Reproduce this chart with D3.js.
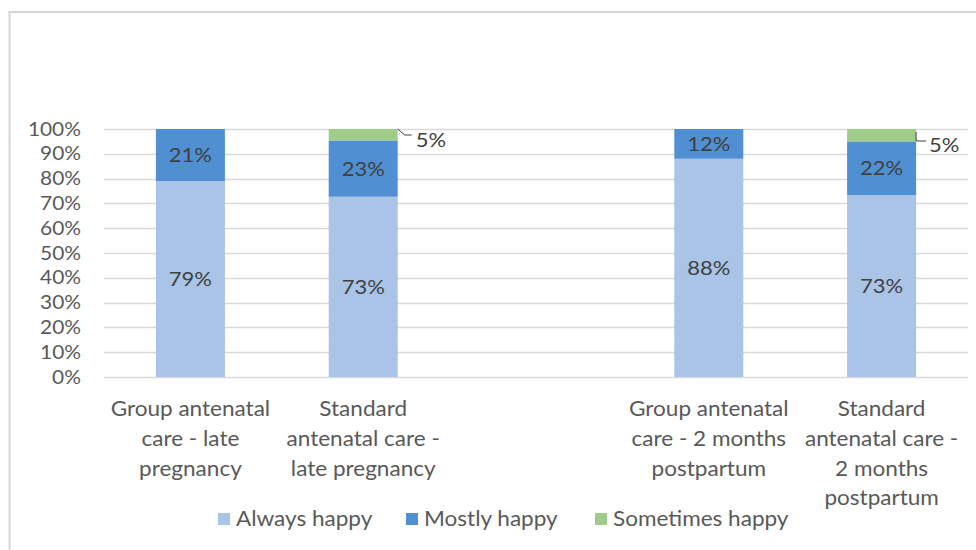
<!DOCTYPE html>
<html>
<head>
<meta charset="utf-8">
<script src="https://cdn.jsdelivr.net/npm/d3@7"></script>
<style>
body { margin: 0; background: #fff; }
svg { display: block; font-family: Lato, "Open Sans", sans-serif; }
</style>
</head>
<body>
<script>
// categories (empty slot in the middle separates the two time points)
const categories = ["c1", "c2", "gap", "c3", "c4"];
const categoryLines = {
  c1: ["Group antenatal", "care - late", "pregnancy"],
  c2: ["Standard", "antenatal care -", "late pregnancy"],
  gap: [],
  c3: ["Group antenatal", "care - 2 months", "postpartum"],
  c4: ["Standard", "antenatal care -", "2 months", "postpartum"]
};
const seriesNames = ["Always happy", "Mostly happy", "Sometimes happy"];
const always = {c1: 79.0, c2: 72.7, c3: 88.0, c4: 73.3};
const mostly = {c1: 21.0, c2: 22.7, c3: 12.0, c4: 21.7};
const sometimes = {c1: 0, c2: 4.6, c3: 0, c4: 5.0};
const yTicks = [0, 10, 20, 30, 40, 50, 60, 70, 80, 90, 100];
const colors = ["#a9c4e6", "#4f8fd2", "#9fcc88"];

const W = 976, H = 550;
const SX = 1.1; // the source text is slightly wider than Lato
const svg = d3.select(document.body).append("svg")
  .attr("width", W).attr("height", H);

const place = (px, py) => `translate(${px},${py}) scale(${SX},1)`;

// chart area frame
svg.append("rect")
  .attr("x", 9.5).attr("y", 12)
  .attr("width", W + 20).attr("height", H + 20)
  .attr("fill", "none").attr("stroke", "#d6d6d6").attr("stroke-width", 2);

const x = d3.scaleBand().domain(categories).range([104, 968]).paddingInner(0.6).paddingOuter(0.3);
const y = d3.scaleLinear().domain([0, 100]).range([377, 129]);

// gridlines
svg.append("g").selectAll("line").data(yTicks).join("line")
  .attr("x1", 104).attr("x2", 968)
  .attr("y1", d => Math.round(y(d)) + 0.5).attr("y2", d => Math.round(y(d)) + 0.5)
  .attr("stroke", "#d9d9d9").attr("stroke-width", 1.5);

// y axis labels
svg.append("g").selectAll("text").data(yTicks).join("text")
  .attr("transform", d => place(81, y(d)))
  .attr("dy", "0.35em")
  .attr("text-anchor", "end")
  .attr("fill", "#595959").attr("font-size", 19)
  .text(d => d + "%");

const data = categories.filter(c => c !== "gap").map(c => ({
  cat: c, always: always[c], mostly: mostly[c], sometimes: sometimes[c]
}));
const stack = d3.stack().keys(["always", "mostly", "sometimes"])(data);

const bw = 69;
const bx = c => x(c) + x.bandwidth() / 2 - bw / 2;

const layers = svg.append("g").selectAll("g").data(stack).join("g")
  .attr("fill", (d, i) => colors[i]);
layers.selectAll("rect").data(d => d.filter(s => s[1] > s[0])).join("rect")
  .attr("x", d => bx(d.data.cat))
  .attr("width", bw)
  .attr("y", d => y(d[1]))
  .attr("height", d => y(d[0]) - y(d[1]));

// inside labels for the two larger segments
stack.slice(0, 2).forEach(layer => {
  svg.append("g").selectAll("text").data(layer).join("text")
    .attr("transform", d => place(bx(d.data.cat) + bw / 2, (y(d[0]) + y(d[1])) / 2))
    .attr("dy", "0.35em")
    .attr("text-anchor", "middle")
    .attr("fill", "#404040").attr("font-size", 20)
    .text(d => Math.round(d[1] - d[0]) + "%");
});

// outside labels with leader lines for the small segments
const small = stack[2].filter(d => d[1] > d[0]);
const offsets = {c2: {dx: 18, dy: 11}, c4: {dx: 13, dy: 16}};
const lead = svg.append("g");
small.forEach(d => {
  const x0 = bx(d.data.cat) + bw, y0 = y(d[1]);
  const o = offsets[d.data.cat];
  lead.append("path")
    .attr("d", d.data.cat === "c2"
      ? `M${x0},${y0} L${x0 + 7},${y0 + 6} L${x0 + o.dx - 4},${y0 + 6}`
      : `M${x0},${y0 + 3} L${x0},${y0 + 12} L${x0 + o.dx - 3},${y0 + 12}`)
    .attr("fill", "none").attr("stroke", "#404040").attr("stroke-width", 1);
  lead.append("text")
    .attr("transform", place(x0 + o.dx, y0 + o.dy))
    .attr("dy", "0.35em")
    .attr("fill", "#404040").attr("font-size", 20)
    .text(Math.round(d[1] - d[0]) + "%");
});

// category labels
const cat = svg.append("g").selectAll("text").data(categories).join("text")
  .attr("transform", d => place(x(d) + x.bandwidth() / 2, 409))
  .attr("text-anchor", "middle")
  .attr("fill", "#595959").attr("font-size", 20.5);
cat.selectAll("tspan").data(d => categoryLines[d]).join("tspan")
  .attr("x", 0)
  .attr("dy", (d, i) => i === 0 ? "0.35em" : 29.7)
  .text(d => d);

// legend
const legendX = [218, 406, 595];
const lg = svg.append("g").selectAll("g").data(seriesNames).join("g")
  .attr("transform", (d, i) => `translate(${legendX[i]},519)`);
lg.append("rect").attr("x", 0).attr("y", -6).attr("width", 12).attr("height", 12)
  .attr("fill", (d, i) => colors[i]);
lg.append("text").attr("transform", place(18, 0)).attr("dy", "0.35em")
  .attr("fill", "#595959").attr("font-size", 20.5)
  .text(d => d);
</script>
</body>
</html>
